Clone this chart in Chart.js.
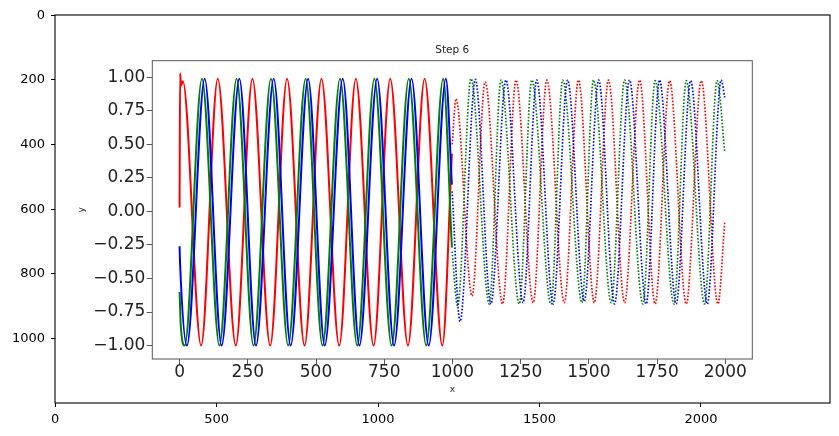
<!DOCTYPE html>
<html>
<head>
<meta charset="utf-8">
<script src="https://cdn.jsdelivr.net/npm/chart.js@4.4.1/dist/chart.umd.min.js"></script>
<style>
html, body { margin: 0; padding: 0; background: #fff; }
#wrap { position: relative; width: 839px; height: 436px; }
canvas { position: absolute; left: 0; top: 0; }
</style>
</head>
<body>
<div id="wrap">
  <canvas id="outer" width="839" height="436"></canvas>
  <canvas id="inner" width="839" height="436"></canvas>
</div>
<script>
// ---- Data ----
const chartTitle = 'Step 6';
const innerXLabel = 'x';
const innerYLabel = 'y';

// Outer (image pixel) axes ticks
const outerXTicks = [0, 500, 1000, 1500, 2000];
const outerYTicks = [0, 200, 400, 600, 800, 1000];

// Inner chart ticks
const innerXTicks = [0, 250, 500, 750, 1000, 1250, 1500, 1750, 2000];
const innerYTicks = [-1, -0.75, -0.5, -0.25, 0, 0.25, 0.5, 0.75, 1];

// Solid series (x in 0..998): key points (start, extrema, end)
const redSolidX   = [0, 2, 5, 12, 79, 140, 206, 267, 332, 394, 458, 520, 585, 646, 711, 772, 837, 898, 963, 998];
const redSolidY   = [0.03, 1.03, 0.94, 0.97, -1.0, 0.99, -1.0, 0.99, -1.0, 0.99, -1.0, 0.99, -1.0, 0.99, -1.0, 0.99, -1.0, 0.99, -1.0, 0.43];
const greenSolidX = [0, 2, 4, 19, 82, 146, 209, 271, 335, 398, 462, 524, 588, 651, 714, 777, 840, 904, 966, 998];
const greenSolidY = [-0.6, -0.72, -0.84, -1.0, 0.99, -1.0, 0.99, -1.0, 0.99, -1.0, 0.99, -1.0, 0.99, -1.0, 0.99, -1.0, 0.99, -1.0, 0.99, -0.27];
const blueSolidX  = [0, 2, 27, 92, 154, 219, 280, 345, 407, 471, 532, 598, 659, 724, 786, 850, 913, 976, 998];
const blueSolidY  = [-0.26, -0.4, -1.0, 0.99, -1.0, 0.99, -1.0, 0.99, -1.0, 0.99, -1.0, 0.99, -1.0, 0.99, -1.0, 0.99, -1.0, 0.99, 0.2];

// Dotted (predicted) series (x in 999..1998)
const redDotX   = [999, 1013, 1072, 1120, 1184, 1233, 1296, 1346, 1410, 1462, 1520, 1572, 1631, 1686, 1743, 1796, 1857, 1912, 1973, 1998];
const redDotY   = [0.5, 0.84, -0.63, 0.965, -0.69, 0.98, -0.68, 0.98, -0.68, 0.98, -0.68, 0.98, -0.68, 0.98, -0.69, 0.975, -0.69, 0.975, -0.69, -0.08];
const greenDotX = [999, 1019, 1068, 1135, 1178, 1245, 1291, 1361, 1404, 1475, 1517, 1582, 1631, 1698, 1743, 1812, 1857, 1924, 1970, 1998];
const greenDotY = [-0.3, -0.705, 0.99, -0.69, 0.98, -0.69, 0.98, -0.69, 0.98, -0.68, 0.98, -0.68, 0.98, -0.69, 0.975, -0.69, 0.975, -0.69, 0.975, 0.44];
const blueDotX  = [999, 1028, 1084, 1141, 1196, 1259, 1309, 1369, 1422, 1483, 1536, 1594, 1649, 1710, 1759, 1820, 1873, 1934, 1985, 1998];
const blueDotY  = [0.15, -0.82, 0.985, -0.69, 0.98, -0.68, 0.98, -0.69, 0.98, -0.67, 0.98, -0.69, 0.98, -0.69, 0.98, -0.69, 0.975, -0.69, 0.98, 0.85];

// ---- Helpers ----
const FONT = 'DejaVu Sans';
function pts(xs, ys) { return xs.map((x, i) => ({ x: x, y: ys[i] })); }
function series(label, xs, ys, color, dotted) {
  return {
    label: label,
    data: pts(xs, ys),
    borderColor: color,
    backgroundColor: color,
    borderWidth: dotted ? 1.7 : 2,
    borderDash: dotted ? [1.6, 1.7] : [],
    borderCapStyle: 'butt',
    pointRadius: 0,
    fill: false,
    cubicInterpolationMode: 'monotone'
  };
}
function framePlugin(id, color, width) {
  return {
    id: id,
    afterDraw(chart) {
      const a = chart.chartArea, c = chart.ctx;
      c.save();
      c.strokeStyle = color;
      c.lineWidth = width;
      c.strokeRect(a.left, a.top, a.right - a.left, a.bottom - a.top);
      c.restore();
    }
  };
}

// ---- Outer axes (image pixel coordinates) ----
new Chart(document.getElementById('outer'), {
  type: 'scatter',
  data: { datasets: [{ data: [] }] },
  options: {
    responsive: false, animation: false, events: [],
    layout: { padding: { left: 0, top: 15, right: 9, bottom: 0 } },
    plugins: { legend: { display: false }, tooltip: { enabled: false }, title: { display: false } },
    scales: {
      x: {
        type: 'linear', min: -0.5, max: 2399.5,
        afterFit: s => { s.height = 33; },
        afterBuildTicks: s => { s.ticks = outerXTicks.map(v => ({ value: v })); },
        grid: { display: true, drawOnChartArea: false, drawTicks: true, tickLength: 4, color: '#000', lineWidth: 1 },
        border: { display: false },
        ticks: { autoSkip: false, maxRotation: 0, minRotation: 0, padding: 6, color: '#000',
                 font: { family: FONT, size: 13, lineHeight: 1 }, callback: v => String(v) }
      },
      y: {
        type: 'linear', reverse: true, min: -0.5, max: 1199.5,
        afterFit: s => { s.width = 55; },
        afterBuildTicks: s => { s.ticks = outerYTicks.map(v => ({ value: v })); },
        grid: { display: true, drawOnChartArea: false, drawTicks: true, tickLength: 4, color: '#000', lineWidth: 1 },
        border: { display: false },
        ticks: { autoSkip: false, padding: 6, color: '#000',
                 font: { family: FONT, size: 13, lineHeight: 1 }, callback: v => String(v) }
      }
    }
  },
  plugins: [framePlugin('outerFrame', '#000', 1.1)]
});

// ---- Inner chart ----
new Chart(document.getElementById('inner'), {
  type: 'line',
  data: {
    datasets: [
      series('blue', blueSolidX, blueSolidY, '#0000ff', false),
      series('blue predicted', blueDotX, blueDotY, '#0000ff', true),
      series('green', greenSolidX, greenSolidY, '#008000', false),
      series('green predicted', greenDotX, greenDotY, '#008000', true),
      series('red', redSolidX, redSolidY, '#ff0000', false),
      series('red predicted', redDotX, redDotY, '#ff0000', true)
    ]
  },
  options: {
    responsive: false, animation: false, events: [],
    layout: { padding: { left: 0, top: 0, right: 86.7, bottom: 0 } },
    plugins: {
      legend: { display: false }, tooltip: { enabled: false },
      title: { display: true, fullSize: false, text: chartTitle, color: '#222',
               font: { family: FONT, size: 10.5, weight: 'normal', lineHeight: 1.2 },
               padding: { top: 44.2, bottom: 3.9 } }
    },
    scales: {
      x: {
        type: 'linear', min: -100, max: 2099,
        afterFit: s => { s.height = 77; },
        afterBuildTicks: s => { s.ticks = innerXTicks.map(v => ({ value: v })); },
        grid: { display: true, drawOnChartArea: false, drawTicks: true, tickLength: 5, color: '#555', lineWidth: 1 },
        border: { display: false },
        ticks: { autoSkip: false, maxRotation: 0, minRotation: 0, padding: 0, color: '#222',
                 font: { family: FONT, size: 17, lineHeight: 1 }, callback: v => String(v) },
        title: { display: true, text: innerXLabel, color: '#222',
                 font: { family: FONT, size: 9, lineHeight: 1.2 }, padding: { top: 0, bottom: 40.8 } }
      },
      y: {
        type: 'linear', min: -1.1, max: 1.124,
        afterFit: s => { s.width = 152.3; },
        afterBuildTicks: s => { s.ticks = innerYTicks.map(v => ({ value: v })); },
        grid: { display: true, drawOnChartArea: false, drawTicks: true, tickLength: 5.5, color: '#555', lineWidth: 1 },
        border: { display: false },
        ticks: { autoSkip: false, padding: 1.5, color: '#222',
                 font: { family: FONT, size: 17, lineHeight: 1 },
                 callback: v => Number(v).toFixed(2).replace('-', '\u2212') },
        title: { display: true, text: innerYLabel, color: '#222',
                 font: { family: FONT, size: 9, lineHeight: 1.2 }, padding: { top: 76, bottom: 0 } }
      }
    }
  },
  plugins: [framePlugin('innerFrame', '#555', 1)]
});
</script>
</body>
</html>
